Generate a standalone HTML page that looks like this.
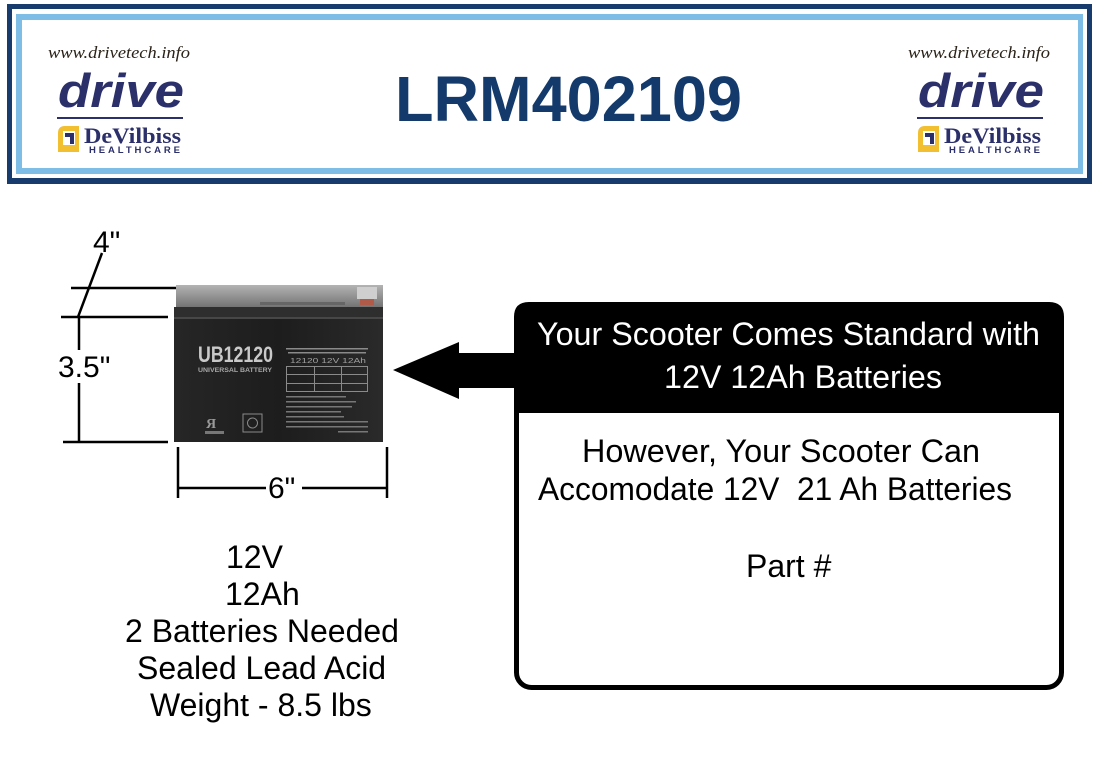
<!DOCTYPE html>
<html>
<head>
<meta charset="utf-8">
<style>
  html,body{margin:0;padding:0;background:#fff;}
  body{width:1100px;height:760px;overflow:hidden;}
  svg{display:block;}
  .sans{font-family:"Liberation Sans", Arial, sans-serif;}
  .serif{font-family:"Liberation Serif", "Times New Roman", serif;}
</style>
</head>
<body>
<svg width="1100" height="760" viewBox="0 0 1100 760" xmlns="http://www.w3.org/2000/svg">
  <rect x="0" y="0" width="1100" height="760" fill="#ffffff"/>

  <!-- Header frame -->
  <rect x="7" y="4" width="1085" height="180" fill="#173b6c"/>
  <rect x="12" y="9" width="1075" height="169" fill="#ffffff"/>
  <rect x="16" y="14" width="1067" height="160" fill="#7dbde6"/>
  <rect x="22" y="20" width="1056" height="148" fill="#ffffff"/>

  <!-- Left logo -->
  <g>
    <text x="48" y="58" class="serif" font-style="italic" font-size="17" fill="#2a2218" textLength="142" lengthAdjust="spacingAndGlyphs">www.drivetech.info</text>
    <text x="58" y="107" class="sans" font-weight="bold" font-style="italic" font-size="47" fill="#2b2f6a" textLength="126" lengthAdjust="spacingAndGlyphs">drive</text>
    <rect x="57" y="117" width="126" height="2" fill="#2b2f6a"/>
    <path d="M65 126 H79 V152 H58 V133 Q58 126 65 126 Z" fill="#f1bf2f"/>
    <path d="M63 131 H75 V145 H63 Z" fill="#ffffff"/>
    <path d="M65 133 H74 V144 H70 V137 H65 Z" fill="#2b2f6a"/>
    <text x="84" y="143" class="serif" font-weight="bold" font-size="22" fill="#2b2f6a" textLength="97" lengthAdjust="spacingAndGlyphs">DeVilbiss</text>
    <text x="89" y="153" class="sans" font-weight="bold" font-size="9.5" fill="#2b2f6a" textLength="91" lengthAdjust="spacing">HEALTHCARE</text>
  </g>
  <!-- Right logo -->
  <g transform="translate(860,0)">
    <text x="48" y="58" class="serif" font-style="italic" font-size="17" fill="#2a2218" textLength="142" lengthAdjust="spacingAndGlyphs">www.drivetech.info</text>
    <text x="58" y="107" class="sans" font-weight="bold" font-style="italic" font-size="47" fill="#2b2f6a" textLength="126" lengthAdjust="spacingAndGlyphs">drive</text>
    <rect x="57" y="117" width="126" height="2" fill="#2b2f6a"/>
    <path d="M65 126 H79 V152 H58 V133 Q58 126 65 126 Z" fill="#f1bf2f"/>
    <path d="M63 131 H75 V145 H63 Z" fill="#ffffff"/>
    <path d="M65 133 H74 V144 H70 V137 H65 Z" fill="#2b2f6a"/>
    <text x="84" y="143" class="serif" font-weight="bold" font-size="22" fill="#2b2f6a" textLength="97" lengthAdjust="spacingAndGlyphs">DeVilbiss</text>
    <text x="89" y="153" class="sans" font-weight="bold" font-size="9.5" fill="#2b2f6a" textLength="91" lengthAdjust="spacing">HEALTHCARE</text>
  </g>

  <!-- Title -->
  <text x="395" y="121" class="sans" font-weight="bold" font-size="64" fill="#133a6b" textLength="347" lengthAdjust="spacingAndGlyphs">LRM402109</text>

  <!-- Dimension lines -->
  <g stroke="#000" stroke-width="2.5" fill="none">
    <line x1="71" y1="288" x2="177" y2="288"/>
    <line x1="61" y1="317" x2="168" y2="317"/>
    <line x1="102" y1="253" x2="78" y2="317"/>
    <line x1="79" y1="317" x2="79" y2="350"/>
    <line x1="79" y1="383" x2="79" y2="441"/>
    <line x1="63" y1="442" x2="168" y2="442"/>
    <line x1="178" y1="447" x2="178" y2="498"/>
    <line x1="387" y1="447" x2="387" y2="498"/>
    <line x1="178" y1="488" x2="266" y2="488"/>
    <line x1="302" y1="488" x2="387" y2="488"/>
  </g>
  <text x="93" y="252" class="sans" font-size="30" fill="#000">4"</text>
  <text x="58" y="377" class="sans" font-size="30" fill="#000">3.5"</text>
  <text x="268" y="498" class="sans" font-size="30" fill="#000">6"</text>

  <!-- Battery -->
  <defs>
    <linearGradient id="lid" x1="0" y1="0" x2="0" y2="1">
      <stop offset="0" stop-color="#b3b3b3"/>
      <stop offset="1" stop-color="#6e6e6e"/>
    </linearGradient>
    <linearGradient id="body" x1="0" y1="0" x2="1" y2="0">
      <stop offset="0" stop-color="#262626"/>
      <stop offset="0.5" stop-color="#1d1d1d"/>
      <stop offset="1" stop-color="#2a2a2a"/>
    </linearGradient>
  </defs>
  <rect x="176" y="285" width="207" height="24" fill="url(#lid)"/>
  <rect x="174" y="307" width="209" height="11" fill="#2e2e2e"/>
  <rect x="174" y="317" width="209" height="2" fill="#474747"/>
  <rect x="174" y="319" width="209" height="123" fill="url(#body)"/>
  <rect x="357" y="287" width="20" height="12" fill="#cfcfcf"/>
  <rect x="360" y="299" width="14" height="6" fill="#b05a4a"/>
  <rect x="260" y="302" width="85" height="3" fill="#666"/>
  <text x="198" y="362" class="sans" font-weight="bold" font-size="22" fill="#c9c9c9" textLength="75" lengthAdjust="spacingAndGlyphs">UB12120</text>
  <text x="198" y="372" class="sans" font-weight="bold" font-size="6" fill="#a8a8a8" textLength="74" lengthAdjust="spacingAndGlyphs">UNIVERSAL BATTERY</text>
  <g fill="#8a8a8a">
    <rect x="286" y="348" width="82" height="1.5"/>
    <rect x="288" y="352" width="78" height="1.5"/>
    <rect x="286" y="366" width="82" height="1"/>
    <rect x="286" y="366" width="1" height="26"/>
    <rect x="367" y="366" width="1" height="26"/>
    <rect x="286" y="374" width="82" height="1"/>
    <rect x="286" y="383" width="82" height="1"/>
    <rect x="286" y="391" width="82" height="1"/>
    <rect x="314" y="366" width="1" height="26"/>
    <rect x="341" y="366" width="1" height="26"/>
  </g>
  <text x="290" y="363" class="sans" font-size="7" fill="#a0a0a0" textLength="76" lengthAdjust="spacingAndGlyphs">12120  12V  12Ah</text>
  <g fill="#777">
    <rect x="286" y="396" width="60" height="1.5"/>
    <rect x="286" y="401" width="70" height="1.5"/>
    <rect x="286" y="406" width="66" height="1.5"/>
    <rect x="286" y="411" width="55" height="1.5"/>
    <rect x="286" y="416" width="58" height="1.5"/>
    <rect x="286" y="421" width="82" height="1.5"/>
    <rect x="286" y="426" width="82" height="1.5"/>
    <rect x="338" y="431" width="30" height="1.5"/>
  </g>
  <text x="206" y="428" class="serif" font-weight="bold" font-size="14" fill="#9a9a9a">Я</text>
  <rect x="205" y="431" width="19" height="3" fill="#777"/>
  <rect x="243" y="414" width="19" height="18" fill="none" stroke="#8a8a8a" stroke-width="1"/>
  <circle cx="252.5" cy="423" r="5" fill="none" stroke="#8a8a8a" stroke-width="1"/>

  <!-- Battery spec text -->
  <g class="sans" font-size="32" fill="#000">
    <text x="226" y="568">12V</text>
    <text x="225" y="605">12Ah</text>
    <text x="125" y="642">2 Batteries Needed</text>
    <text x="137" y="679">Sealed Lead Acid</text>
    <text x="150" y="716">Weight - 8.5 lbs</text>
  </g>

  <!-- Arrow -->
  <polygon points="393,370 459,342 459,353 520,353 520,388 459,388 459,399" fill="#000"/>

  <!-- Callout box -->
  <rect x="516.5" y="304.5" width="545" height="383" rx="15" ry="15" fill="#fff" stroke="#000" stroke-width="5"/>
  <path d="M514 413 V317 Q514 302 529 302 H1049 Q1064 302 1064 317 V413 Z" fill="#000"/>

  <text x="537" y="345" class="sans" font-size="32" fill="#fff" textLength="503" lengthAdjust="spacingAndGlyphs">Your Scooter Comes Standard with</text>
  <text x="664" y="388" class="sans" font-size="32" fill="#fff" textLength="278" lengthAdjust="spacingAndGlyphs">12V 12Ah Batteries</text>

  <text x="582" y="462" class="sans" font-size="32" fill="#000" textLength="398" lengthAdjust="spacingAndGlyphs">However, Your Scooter Can</text>
  <text x="538" y="500" class="sans" font-size="32" fill="#000" textLength="474" lengthAdjust="spacingAndGlyphs" xml:space="preserve">Accomodate 12V  21 Ah Batteries</text>
  <text x="746" y="577" class="sans" font-size="32" fill="#000">Part #</text>
</svg>
</body>
</html>
